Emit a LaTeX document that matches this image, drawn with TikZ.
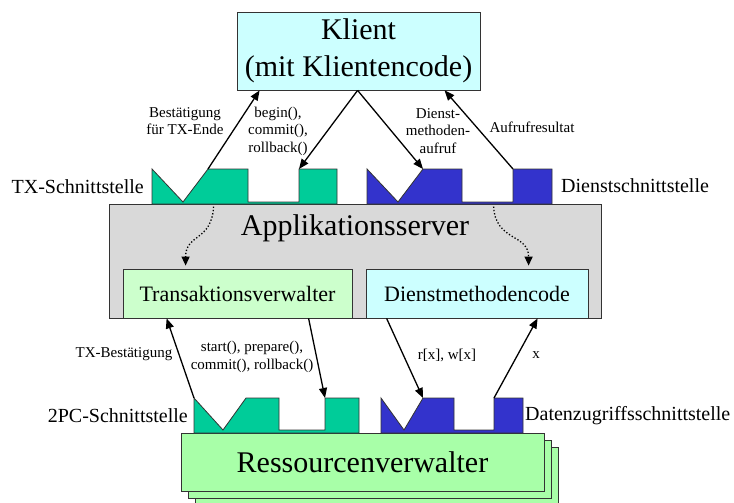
\documentclass[tikz,border=0pt]{standalone}
\usepackage{fontspec}
\setmainfont{Liberation Serif}
\usetikzlibrary{arrows.meta,calc}
\definecolor{klientfill}{HTML}{CCFFFF}
\definecolor{serverfill}{HTML}{D9D9D9}
\definecolor{transfill}{HTML}{CCFFCC}
\definecolor{ressfill}{HTML}{A8FFA8}
\definecolor{ifgreen}{HTML}{00CC99}
\definecolor{ifblue}{HTML}{3333CC}
\definecolor{outl}{HTML}{333333}
\tikzset{
  box/.style={draw=outl, line width=0.8pt, inner sep=0pt, align=center},
  big/.style={font=\fontsize{30}{37}\selectfont},
  mid/.style={font=\fontsize{22}{26}\selectfont},
  iflabel/.style={inner sep=0pt, font=\fontsize{20}{24}\selectfont},
  small/.style={inner sep=0pt, align=center, font=\fontsize{15}{17.5}\selectfont},
  iface/.style={draw=outl, line width=0.8pt},
  arr/.style={line width=1.3pt, -{Triangle[length=10pt,width=8pt]}},
  dotarr/.style={line width=1.3pt, dotted, -{Triangle[length=9pt,width=8pt]}}
}
\begin{document}
\begin{tikzpicture}[x=1pt,y=-1pt]
\useasboundingbox (0,0) rectangle (734,503);
% Klient
\node[box, big, fill=klientfill, minimum width=243pt, minimum height=78pt] (klient) at (358.5,51) {Klient\\(mit Klientencode)};
% Application server
\node[box, fill=serverfill, minimum width=492pt, minimum height=114pt] (server) at (355,261) {};
\node[big, inner sep=0pt] (servertext) at (355,228) {Applikationsserver};
\node[box, mid, fill=transfill, minimum width=229pt, minimum height=49pt] (trans) at (237.5,293.5) {Transaktionsverwalter};
\node[box, mid, fill=klientfill, minimum width=222pt, minimum height=49pt] (dienst) at (477,293.5) {Dienstmethodencode};
% Resource managers
\node[box, fill=ressfill, minimum width=363pt, minimum height=58pt] (ress3) at (376.5,476) {};
\node[box, fill=ressfill, minimum width=363pt, minimum height=58pt] (ress2) at (369.5,469) {};
\node[box, big, fill=ressfill, minimum width=363pt, minimum height=58pt] (ress) at (362.5,462) {Ressourcenverwalter};
% Top interfaces
\draw[iface, fill=ifgreen] (152,169) -- (183,202) -- (208,169) coordinate (tg1) -- (248,169) -- (248,202) -- (299,202) -- (299,169) coordinate (tg2) -- (337,169) -- (337,204) -- (152,204) -- cycle;
\draw[iface, fill=ifblue] (367,169) -- (398,202) -- (423,169) coordinate (tb1) -- (462,169) -- (462,202) -- (513,202) -- (513,169) coordinate (tb2) -- (552,169) -- (552,204) -- (367,204) -- cycle;
% Bottom interfaces
\draw[iface, fill=ifgreen] (194,398) coordinate (bg1) -- (223,430) -- (246,398) -- (279,398) -- (279,430) -- (325,430) -- (325,398) coordinate (bg2) -- (359,398) -- (359,433) -- (194,433) -- cycle;
\draw[iface, fill=ifblue] (381,398) -- (404,430) -- (423,398) coordinate (bb1) -- (454,398) -- (454,430) -- (494,430) -- (494,398) coordinate (bb2) -- (523,398) -- (523,433) -- (381,433) -- cycle;
% Points on node borders
\coordinate (k1) at ($(klient.south west)+(23,0)$);
\coordinate (k2) at ($(klient.south west)+(121,0)$);
\coordinate (k3) at ($(klient.south west)+(208,0)$);
\coordinate (t1) at ($(trans.south west)+(44,0)$);
\coordinate (t2) at ($(trans.south west)+(186,0)$);
\coordinate (d1) at ($(dienst.south west)+(21,0)$);
\coordinate (d2) at ($(dienst.south west)+(172,0)$);
\coordinate (s1) at ($(server.north west)+(105,3)$);
\coordinate (s2) at ($(server.north west)+(385,3)$);
\coordinate (tt) at ($(trans.north west)+(63,-3)$);
\coordinate (dt) at ($(dienst.north west)+(163,-3)$);
% Arrows top
\draw[arr] (tg1) -- (k1);
\draw[arr] (k2) -- (tg2);
\draw[arr] (k2) -- (tb1);
\draw[arr] (tb2) -- (k3);
% Dotted arrows
\draw[dotarr] (s1) .. controls ($(s1)+(-2,35)$) and ($(tt)+(0,-32)$) .. (tt);
\draw[dotarr] (s2) .. controls ($(s2)+(2,35)$) and ($(dt)+(0,-32)$) .. (dt);
% Arrows bottom
\draw[arr] (bg1) -- (t1);
\draw[arr] (t2) -- (bg2);
\draw[arr] (d1) -- (bb1);
\draw[arr] (bb2) -- (d2);
% Labels
\node[small] (l1) at (185,121) {Bestätigung\\für TX-Ende};
\node[small] (l2) at (278,131) {begin(),\\commit(),\\rollback()};
\node[small] (l3) at (438,131) {Dienst-\\methoden-\\aufruf};
\node[small] (l4) at (532,127) {Aufrufresultat};
\node[small] (l5) at (124,354) {TX-Bestätigung};
\node[small] (l6) at (252,357) {start(), prepare(),\\commit(), rollback()};
\node[small] (l7) at (447,355) {r[x], w[x]};
\node[small] (l8) at (536,355) {x};
\node[iflabel, anchor=east] (if1) at (144,187) {TX-Schnittstelle};
\node[iflabel, anchor=west] (if2) at (561,186) {Dienstschnittstelle};
\node[iflabel, anchor=east] (if3) at (188,416) {2PC-Schnittstelle};
\node[iflabel, anchor=west] (if4) at (525,416) {Datenzugriffsschnittstelle};
\end{tikzpicture}
\end{document}
